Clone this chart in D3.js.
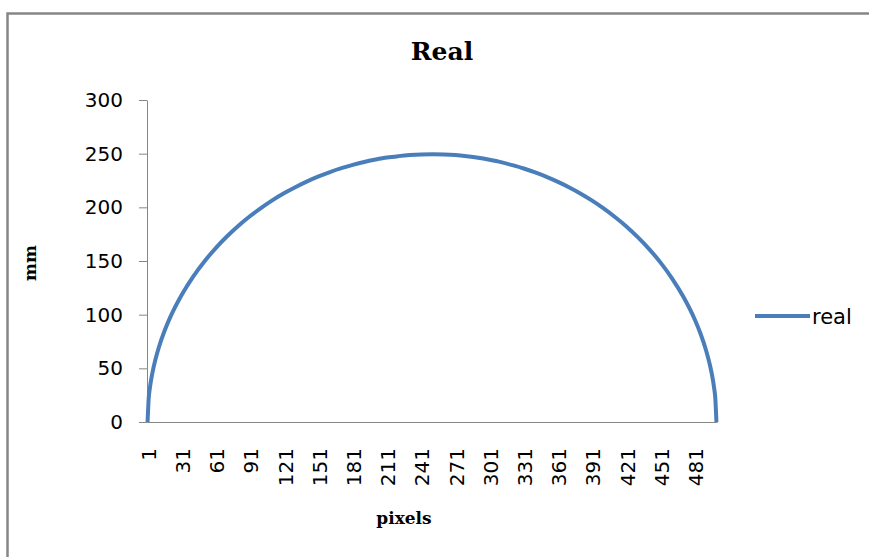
<!DOCTYPE html>
<html>
<head>
<meta charset="utf-8">
<script src="https://cdn.jsdelivr.net/npm/d3@7"></script>
<style>
  html, body { margin: 0; padding: 0; background: #fff; }
  svg { display: block; }
</style>
</head>
<body>
<svg id="chart" width="869" height="557"></svg>
<script>
// ---- data ----
const categoryCount = 500;                       // pixel index 1..500
const categories = d3.range(1, categoryCount + 1);
const sampleCats = [1, 2, 3, 5, 8, 11, 16, 21, 31, 41, 51, 61, 71, 81, 91, 101, 111, 121, 131, 141,
  151, 161, 171, 181, 191, 201, 211, 221, 231, 241, 251, 261, 271, 281, 291, 301, 311, 321, 331, 341,
  351, 361, 371, 381, 391, 401, 411, 421, 431, 441, 451, 461, 471, 481, 486, 491, 494, 496, 498, 499, 500];
const realValues = [0, 22.3, 31.5, 44.5, 58.7, 69.9, 85.2, 97.9, 118.6, 135.5, 149.8, 162.3, 173.3, 183.1, 191.9, 199.7, 206.9, 213.3, 219.0, 224.2,
  228.8, 232.9, 236.5, 239.6, 242.3, 244.5, 246.4, 247.7, 248.7, 249.3, 249.5, 249.3, 248.7, 247.6, 246.2, 244.3, 242.1, 239.3, 236.2, 232.5,
  228.4, 223.7, 218.5, 212.7, 206.2, 199.0, 191.0, 182.2, 172.2, 161.1, 148.5, 133.9, 116.7, 95.5, 82.4, 66.4, 54.4, 44.5, 31.5, 22.3, 0];
const xTickLabels = ["1","31","61","91","121","151","181","211","241","271","301","331","361","391","421","451","481"];
const yTickValues = [0, 50, 100, 150, 200, 250, 300];
const titleText = "Real";
const xTitle = "pixels";
const yTitle = "mm";
const seriesName = "real";

// ---- layout ----
const svg = d3.select("#chart");
const plot = { left: 147, right: 717, top: 100, bottom: 422 };
const lineColor = "#4a7ebb";
const axisColor = "#868686";
const tickFont = "'DejaVu Sans', Verdana, sans-serif";
const serifFont = "'DejaVu Serif', 'Liberation Serif', serif";

// outer frame
svg.append("rect")
  .attr("x", 7.5).attr("y", 13.5)
  .attr("width", 880).attr("height", 560)
  .attr("fill", "none").attr("stroke", axisColor).attr("stroke-width", 2.5);

const x = d3.scaleBand().domain(categories).range([plot.left, plot.right]).padding(0);
const cx = c => x(c) + x.bandwidth() / 2;
const y = d3.scaleLinear().domain([0, 300]).range([plot.bottom, plot.top]);

// y axis
const yAxis = svg.append("g")
  .attr("transform", `translate(${plot.left},0)`)
  .call(d3.axisLeft(y).tickValues(yTickValues).tickSize(8).tickSizeOuter(0).tickPadding(16));
yAxis.select(".domain").attr("stroke", axisColor);
yAxis.selectAll(".tick line").attr("stroke", axisColor);
yAxis.selectAll(".tick text")
  .attr("font-family", tickFont).attr("font-size", 20).attr("fill", "#000");

// x axis
const xAxis = svg.append("g")
  .attr("transform", `translate(0,${plot.bottom})`)
  .call(d3.axisBottom(x).tickValues(xTickLabels.map(Number)).tickSize(0).tickSizeOuter(0).tickPadding(0));
xAxis.select(".domain").attr("stroke", axisColor);
xAxis.selectAll(".tick text")
  .attr("font-family", tickFont).attr("font-size", 20).attr("fill", "#000")
  .attr("text-anchor", "end")
  .attr("transform", "rotate(-90)")
  .attr("x", -26).attr("y", 0).attr("dy", "0.36em")
  .attr("dx", 0);
xAxis.selectAll(".tick").attr("transform", d => `translate(${cx(d) + 1},0)`);

// series line
const line = d3.line().x((d, i) => cx(sampleCats[i])).y(d => y(d)).curve(d3.curveMonotoneX);
svg.append("path")
  .datum(realValues)
  .attr("d", line)
  .attr("fill", "none")
  .attr("stroke", lineColor)
  .attr("stroke-width", 4)
  .attr("stroke-linejoin", "round");

// title
svg.append("text")
  .attr("x", 442).attr("y", 60)
  .attr("text-anchor", "middle")
  .attr("font-family", serifFont).attr("font-weight", "bold").attr("font-size", 25)
  .text(titleText);

// axis titles
svg.append("text")
  .attr("x", 404).attr("y", 524)
  .attr("text-anchor", "middle")
  .attr("font-family", serifFont).attr("font-weight", "bold").attr("font-size", 17)
  .text(xTitle);
svg.append("text")
  .attr("transform", "translate(36,263) rotate(-90)")
  .attr("text-anchor", "middle")
  .attr("font-family", serifFont).attr("font-weight", "bold").attr("font-size", 17)
  .text(yTitle);

// legend
const legend = svg.append("g");
legend.append("line")
  .attr("x1", 755).attr("x2", 810).attr("y1", 316).attr("y2", 316)
  .attr("stroke", lineColor).attr("stroke-width", 4);
legend.append("text")
  .attr("x", 812).attr("y", 324)
  .attr("font-family", tickFont).attr("font-size", 21).attr("fill", "#000")
  .text(seriesName);
</script>
</body>
</html>
